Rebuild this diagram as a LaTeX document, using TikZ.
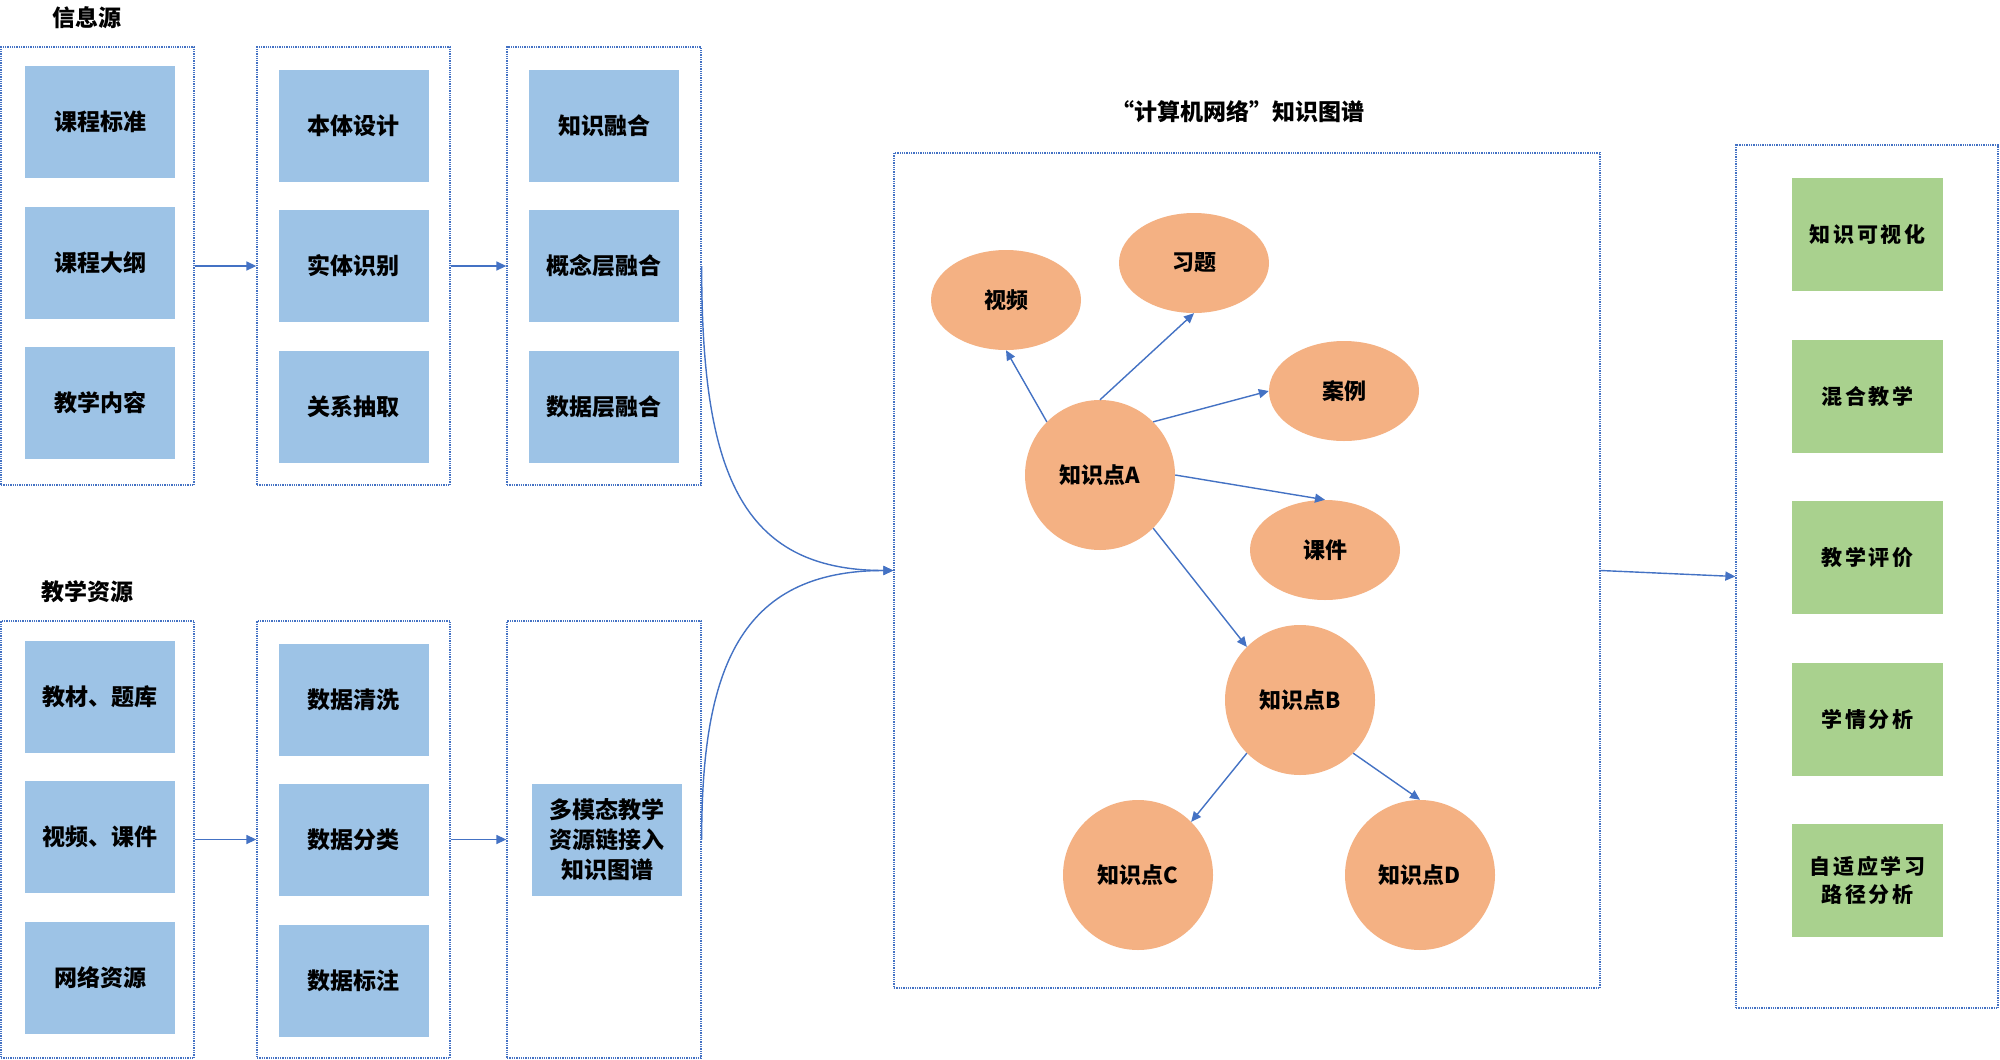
\documentclass[tikz,border=0pt]{standalone}
\usepackage{fontspec}
\setmainfont{Noto Sans CJK SC}
\newfontfamily\cjkg[LetterSpace=12]{Noto Sans CJK SC}
\usetikzlibrary{arrows.meta,shapes.geometric}
\definecolor{bluebox}{HTML}{9DC3E6}
\definecolor{orangec}{HTML}{F4B183}
\definecolor{greenbox}{HTML}{A9D18E}
\definecolor{lineblue}{HTML}{4472C4}
\begin{document}
\begin{tikzpicture}[x=1pt,y=-1pt,
 frame/.style={draw=lineblue, densely dotted, line width=1.3pt, inner sep=0pt},
 bbox/.style={fill=bluebox, minimum width=150pt, minimum height=112pt, inner sep=0pt, font=\fontsize{23}{30}\selectfont\bfseries, align=center},
 gbox/.style={fill=greenbox, minimum width=151pt, minimum height=113pt, inner sep=0pt, font=\cjkg\fontsize{21}{28}\selectfont\bfseries, align=center},
 oval/.style={ellipse, fill=orangec, minimum width=150pt, minimum height=100pt, inner sep=0pt, font=\fontsize{22}{28}\selectfont\bfseries},
 kp/.style={oval, minimum height=150pt},
 arr/.style={draw=lineblue, line width=1.4pt, -{Triangle[length=10pt,width=9pt]}},
 ttl/.style={font=\fontsize{23}{28}\selectfont\bfseries}]
\useasboundingbox[fill=white] (0,0) rectangle (2000,1060);

% titles
\node[ttl] (t1) at (87,18) {信息源};
\node[ttl] (t2) at (87,592) {教学资源};
\node[ttl] (t3) at (1238,112) {“计算机网络”知识图谱};

% frames
\node[frame, minimum width=193pt, minimum height=438pt] (g1) at (97.5,266) {};
\node[frame, minimum width=193pt, minimum height=438pt] (g2) at (353.5,266) {};
\node[frame, minimum width=194pt, minimum height=438pt] (g3) at (604,266) {};
\node[frame, minimum width=193pt, minimum height=437pt] (g4) at (97.5,839.5) {};
\node[frame, minimum width=193pt, minimum height=437pt] (g5) at (353.5,839.5) {};
\node[frame, minimum width=194pt, minimum height=437pt] (g6) at (604,839.5) {};
\node[frame, minimum width=706pt, minimum height=835pt] (big) at (1247,570.5) {};
\node[frame, minimum width=262pt, minimum height=863pt] (right) at (1867,576.5) {};

% top blue boxes
\node[bbox] (a1) at (100,122) {课程标准};
\node[bbox] (a2) at (100,263) {课程大纲};
\node[bbox] (a3) at (100,403) {教学内容};
\node[bbox] (b1) at (353.5,125.5) {本体设计};
\node[bbox] (b2) at (353.5,266) {实体识别};
\node[bbox] (b3) at (353.5,407) {关系抽取};
\node[bbox] (c1) at (604,125.5) {知识融合};
\node[bbox] (c2) at (604,266) {概念层融合};
\node[bbox] (c3) at (604,407) {数据层融合};

% bottom blue boxes
\node[bbox] (d1) at (100,696.5) {教材、题库};
\node[bbox] (d2) at (100,837) {视频、课件};
\node[bbox] (d3) at (100,978) {网络资源};
\node[bbox] (e1) at (353.5,699.5) {数据清洗};
\node[bbox] (e2) at (353.5,840) {数据分类};
\node[bbox] (e3) at (353.5,981) {数据标注};
\node[bbox] (f1) at (607,840) {多模态教学\\资源链接入\\知识图谱};

% graph
\node[oval] (vid) at (1006,300) {视频};
\node[oval] (ex) at (1194,263) {习题};
\node[oval] (case) at (1344,391) {案例};
\node[oval] (cw) at (1325,550) {课件};
\node[kp] (A) at (1100,475) {知识点A};
\node[kp] (B) at (1300,700) {知识点B};
\node[kp] (C) at (1138,875) {知识点C};
\node[kp] (D) at (1420,875) {知识点D};

% green boxes
\node[gbox] (h1) at (1867.5,234) {知识可视化};
\node[gbox] (h2) at (1867.5,396) {混合教学};
\node[gbox] (h3) at (1867.5,557.5) {教学评价};
\node[gbox] (h4) at (1867.5,719.5) {学情分析};
\node[gbox] (h5) at (1867.5,880.5) {自适应学习\\路径分析};

% connectors
\draw[arr] (g1.east) -- (g2.west);
\draw[arr] (g2.east) -- (g3.west);
\draw[arr] (g4.east) -- (g5.west);
\draw[arr] (g5.east) -- (g6.west);
\draw[arr] (g3.east) .. controls +(0,204) and +(-154,0) .. (big.west);
\draw[arr] (g6.east) .. controls +(0,-170) and +(-154,0) .. (big.west);
\draw[arr] (big.east) -- (right.west);

\draw[arr] (A.north west) -- (vid.south);
\draw[arr] (A.north) -- (ex.south);
\draw[arr] (A.north east) -- (case.west);
\draw[arr] (A.east) -- (cw.north);
\draw[arr] (A.south east) -- (B.north west);
\draw[arr] (B.south west) -- (C.north east);
\draw[arr] (B.south east) -- (D.north);
\end{tikzpicture}
\end{document}
